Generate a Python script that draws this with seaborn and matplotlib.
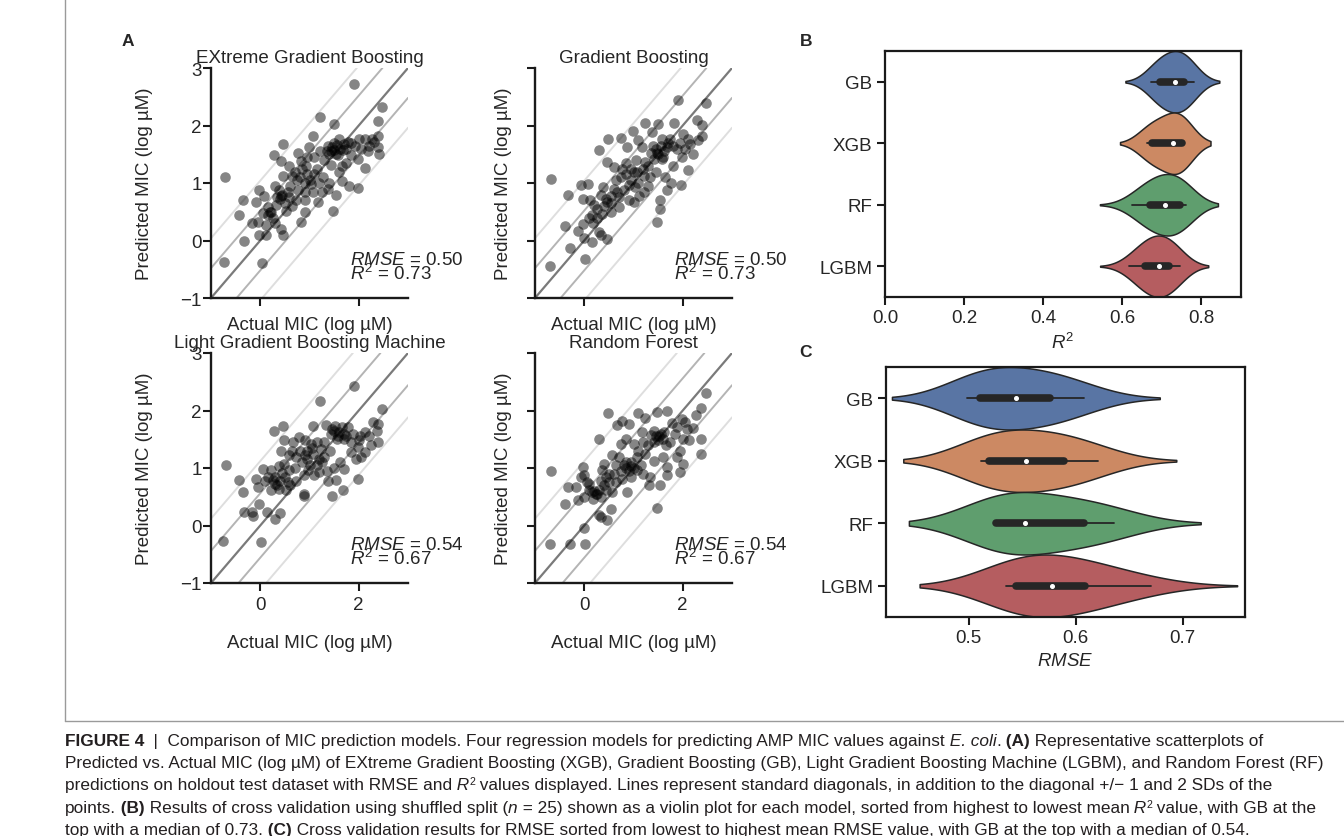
import numpy as np
import pandas as pd
import matplotlib
matplotlib.use("Agg")
import matplotlib.pyplot as plt
import seaborn as sns
from matplotlib.lines import Line2D

# (actual, predicted) pairs
xgb_points = [
    (1.90, 2.72), (2.48, 2.33), (2.39, 2.07), (1.21, 2.14), (1.49, 2.03), (1.08, 1.82), (0.47, 1.67), (0.27, 1.48),
    (-0.71, 1.10), (0.43, 1.38), (0.76, 1.52), (0.99, 1.63), (1.21, 1.56), (1.37, 1.64), (1.44, 1.56), (1.54, 1.51),
    (1.60, 1.76), (1.71, 1.68), (1.78, 1.71), (1.92, 1.64), (2.01, 1.77), (2.12, 1.77), (2.26, 1.77), (2.39, 1.81),
    (2.39, 1.62), (2.41, 1.51), (2.12, 1.26), (1.99, 1.42), (1.85, 1.49), (1.65, 1.29), (1.43, 1.32), (1.27, 1.10),
    (1.10, 1.16), (0.93, 1.30), (0.83, 1.39), (0.59, 1.30), (0.64, 1.13), (0.46, 1.12), (0.90, 1.00), (1.03, 0.98),
    (1.20, 1.00), (1.37, 0.90), (1.54, 0.79), (1.67, 1.04), (1.81, 0.95), (1.99, 0.91), (1.48, 0.52), (1.17, 0.67),
    (1.07, 0.84), (0.90, 0.70), (0.73, 0.70), (0.59, 0.76), (0.42, 0.78), (0.39, 0.87), (0.56, 0.84), (0.76, 0.87),
    (-0.02, 0.87), (0.08, 0.78), (-0.09, 0.67), (-0.36, 0.70), (-0.43, 0.45), (0.22, 0.49), (0.32, 0.61), (0.52, 0.52),
    (0.15, 0.58), (0.05, 0.47), (-0.05, 0.33), (-0.16, 0.30), (0.12, 0.27), (0.29, 0.30), (0.42, 0.20), (0.46, 0.09),
    (0.12, 0.09), (-0.02, 0.09), (-0.33, 0.00), (0.83, 0.33), (0.90, 0.49), (-0.73, -0.38), (0.03, -0.39),
    (1.45, 1.62), (1.50, 1.58), (1.55, 1.66), (1.62, 1.60), (1.40, 1.50), (1.58, 1.48), (1.68, 1.58), (1.50, 1.70),
    (1.35, 1.55), (1.75, 1.60), (1.85, 1.70), (2.05, 1.60), (2.20, 1.65), (2.30, 1.72), (2.18, 1.55), (0.70, 1.20),
    (0.80, 1.10), (0.95, 1.15), (0.85, 1.25), (1.00, 1.05), (0.75, 1.05), (1.15, 1.25), (1.30, 1.40), (1.10, 1.45),
    (0.95, 1.45), (0.40, 0.72), (0.45, 0.80), (0.35, 0.75), (0.50, 0.65), (0.20, 0.50), (0.15, 0.45), (0.25, 0.40),
    (0.60, 0.95), (0.65, 0.60), (0.30, 0.95), (1.25, 0.85), (1.40, 1.00), (1.60, 1.20), (1.75, 1.35), (0.90, 0.85),
]
gb_points = [
    (1.90, 2.44), (2.48, 2.39), (2.28, 2.10), (2.40, 2.01), (1.23, 2.04), (1.49, 2.03), (1.83, 2.04), (0.99, 1.91),
    (1.38, 1.88), (0.75, 1.78), (0.49, 1.77), (1.09, 1.74), (0.30, 1.58), (0.87, 1.62), (1.17, 1.62), (1.58, 1.77),
    (1.74, 1.77), (2.01, 1.85), (2.11, 1.77), (2.40, 1.82), (1.68, 1.62), (1.48, 1.53), (1.58, 1.42), (1.98, 1.45),
    (2.11, 1.23), (1.88, 1.59), (1.41, 1.42), (1.24, 1.36), (0.46, 1.36), (0.60, 1.27), (0.77, 1.25), (0.94, 1.25),
    (1.07, 1.19), (1.21, 1.13), (1.34, 1.10), (1.64, 1.10), (1.77, 1.00), (1.97, 0.97), (1.68, 0.87), (1.54, 0.70),
    (1.53, 0.54), (1.48, 0.32), (1.21, 0.84), (1.04, 0.93), (0.91, 0.96), (0.81, 0.87), (0.67, 0.84), (0.54, 0.78),
    (0.39, 0.93), (0.47, 0.67), (0.91, 0.70), (1.11, 0.78), (1.01, 0.67), (0.70, 0.58), (0.54, 0.49), (0.37, 0.46),
    (0.26, 0.39), (0.15, 0.45), (0.08, 0.98), (-0.07, 0.97), (-0.03, 0.72), (0.12, 0.71), (-0.34, 0.79), (-0.67, 1.07),
    (-0.40, 0.26), (-0.13, 0.17), (-0.02, 0.29), (0.00, 0.04), (0.15, -0.03), (0.30, 0.15), (0.34, 0.09), (0.47, 0.03),
    (-0.29, -0.13), (0.02, -0.32), (-0.69, -0.45),
    (1.45, 1.60), (1.55, 1.65), (1.50, 1.50), (1.62, 1.55), (1.40, 1.65), (1.70, 1.70), (1.80, 1.65), (1.95, 1.70),
    (2.05, 1.60), (2.15, 1.68), (1.35, 1.52), (1.60, 1.45), (0.85, 1.15), (0.95, 1.05), (1.00, 1.20), (0.75, 1.10),
    (1.10, 1.00), (1.20, 1.25), (0.65, 1.05), (0.85, 1.35), (1.05, 1.40), (1.30, 1.30), (0.40, 0.60), (0.45, 0.72),
    (0.55, 0.65), (0.25, 0.55), (0.20, 0.62), (0.60, 0.90), (0.70, 0.75), (0.35, 0.80), (0.10, 0.40), (0.18, 0.30),
    (1.30, 0.95), (1.45, 1.20), (1.80, 1.30), (2.20, 1.50), (2.30, 1.75),
]
lgbm_points = [
    (1.90, 2.42), (1.21, 2.16), (2.48, 2.03), (0.27, 1.65), (0.47, 1.73), (1.08, 1.73), (1.34, 1.75), (1.52, 1.73),
    (1.65, 1.71), (1.78, 1.71), (1.44, 1.59), (1.58, 1.56), (1.71, 1.51), (1.88, 1.59), (2.02, 1.56), (2.12, 1.62),
    (2.28, 1.80), (2.39, 1.77), (2.38, 1.64), (2.39, 1.45), (2.12, 1.27), (1.99, 1.36), (1.85, 1.27), (1.95, 1.16),
    (1.99, 0.81), (1.68, 0.61), (1.46, 0.52), (1.54, 0.79), (1.71, 0.98), (1.61, 1.10), (1.41, 1.30), (1.24, 1.33),
    (1.03, 1.42), (0.90, 1.48), (0.78, 1.54), (0.66, 1.45), (0.49, 1.48), (0.42, 1.30), (0.59, 1.22), (0.73, 1.19),
    (0.90, 1.22), (1.07, 1.25), (1.20, 1.16), (1.20, 0.93), (1.37, 0.78), (1.10, 0.87), (0.97, 0.96), (0.88, 0.87),
    (0.88, 0.52), (0.73, 0.78), (0.59, 0.96), (0.49, 1.07), (0.39, 1.04), (0.22, 0.96), (0.05, 0.98), (-0.09, 0.81),
    (0.10, 0.78), (0.29, 0.72), (0.39, 0.64), (0.52, 0.61), (-0.05, 0.67), (0.22, 0.61), (-0.43, 0.79), (-0.36, 0.58),
    (-0.70, 1.06), (-0.33, 0.24), (-0.16, 0.23), (-0.14, 0.16), (-0.02, 0.37), (0.14, 0.23), (0.29, 0.12), (0.41, 0.22),
    (-0.75, -0.27), (0.01, -0.29), (0.56, 0.76),
    (1.50, 1.65), (1.60, 1.62), (1.70, 1.60), (1.55, 1.50), (1.45, 1.68), (1.75, 1.55), (1.85, 1.45), (2.00, 1.48),
    (2.20, 1.55), (2.25, 1.40), (2.05, 1.20), (0.85, 1.10), (0.95, 1.15), (1.00, 1.05), (0.80, 1.30), (1.15, 1.05),
    (1.25, 1.10), (1.05, 1.35), (1.30, 1.45), (0.70, 1.00), (0.95, 1.30), (1.15, 1.45), (0.30, 0.85), (0.40, 0.78),
    (0.35, 0.70), (0.50, 0.85), (0.25, 0.80), (0.45, 0.92), (0.60, 0.70), (0.15, 0.85), (0.65, 1.30), (1.35, 0.95),
    (0.88, 0.55), (1.30, 1.20), (1.50, 1.00),
]
rf_points = [
    (2.47, 2.30), (2.38, 2.04), (2.27, 1.93), (0.49, 1.95), (1.09, 1.95), (1.23, 1.87), (1.48, 1.97), (1.68, 1.99),
    (0.77, 1.82), (0.66, 1.75), (0.91, 1.77), (0.30, 1.51), (1.17, 1.62), (1.41, 1.64), (1.51, 1.56), (1.61, 1.62),
    (1.78, 1.78), (1.88, 1.71), (1.98, 1.85), (2.08, 1.68), (2.13, 1.48), (2.01, 1.51), (2.38, 1.51), (2.38, 1.25),
    (1.88, 1.19), (2.01, 1.07), (1.95, 0.93), (1.68, 1.01), (1.68, 0.87), (1.54, 0.70), (1.48, 0.31), (1.31, 0.70),
    (1.34, 0.84), (1.41, 1.13), (1.24, 1.25), (1.01, 1.42), (0.84, 1.51), (0.74, 1.42), (0.57, 1.22), (0.70, 1.19),
    (0.84, 1.10), (0.94, 1.04), (1.07, 1.19), (1.07, 0.96), (0.94, 0.84), (0.77, 0.81), (0.64, 0.75), (0.50, 0.90),
    (0.40, 1.07), (0.37, 0.96), (0.34, 0.78), (0.30, 0.61), (0.44, 0.61), (0.57, 0.58), (0.87, 0.58), (0.17, 0.46),
    (0.23, 0.55), (0.10, 0.61), (-0.02, 1.01), (0.00, 0.87), (-0.07, 0.85), (0.10, 0.73), (-0.17, 0.67), (-0.34, 0.67),
    (-0.13, 0.44), (-0.01, 0.49), (-0.40, 0.37), (-0.67, 0.94), (0.54, 0.28), (0.30, 0.19), (0.47, 0.09), (0.35, 0.15),
    (-0.01, -0.05), (-0.29, -0.33), (0.02, -0.33), (-0.70, -0.33),
    (1.45, 1.55), (1.50, 1.48), (1.55, 1.60), (1.42, 1.45), (1.60, 1.50), (1.35, 1.58), (1.65, 1.40), (1.75, 1.45),
    (1.85, 1.60), (2.05, 1.80), (2.20, 1.70), (1.95, 1.30), (0.85, 1.00), (0.90, 0.95), (0.80, 1.05), (0.95, 1.10),
    (1.00, 1.00), (0.75, 0.95), (1.15, 1.05), (1.20, 0.90), (0.65, 1.05), (0.60, 0.90), (1.10, 1.30), (0.25, 0.55),
    (0.20, 0.60), (0.35, 0.50), (0.40, 0.70), (0.15, 0.58), (0.50, 0.75), (0.45, 0.85), (0.05, 0.75), (1.60, 1.20),
    (1.30, 1.40), (1.20, 1.45),
]

panel_titles = ["EXtreme Gradient Boosting", "Gradient Boosting",
                "Light Gradient Boosting Machine", "Random Forest"]
panel_rmse = ["0.50", "0.50", "0.54", "0.54"]
panel_r2 = ["0.73", "0.73", "0.67", "0.67"]
panel_sd = [0.52, 0.52, 0.56, 0.56]

# shuffled-split cross validation scores (n = 25 per model)
cv_models = ["GB", "XGB", "RF", "LGBM"]
r2_gb = [0.673, 0.680, 0.686, 0.690, 0.693, 0.695, 0.696, 0.705, 0.714, 0.721, 0.727, 0.731, 0.734,
         0.737, 0.740, 0.743, 0.746, 0.750, 0.757, 0.760, 0.764, 0.768, 0.772, 0.776, 0.780]
r2_xgb = [0.663, 0.666, 0.668, 0.670, 0.672, 0.674, 0.675, 0.690, 0.700, 0.710, 0.718, 0.724, 0.728,
          0.732, 0.736, 0.740, 0.744, 0.748, 0.751, 0.751, 0.752, 0.752, 0.753, 0.753, 0.754]
r2_rf = [0.625, 0.640, 0.650, 0.658, 0.663, 0.668, 0.671, 0.680, 0.688, 0.695, 0.700, 0.705, 0.709,
         0.714, 0.720, 0.726, 0.732, 0.738, 0.747, 0.749, 0.751, 0.753, 0.755, 0.758, 0.760]
r2_lgbm = [0.616, 0.630, 0.640, 0.647, 0.652, 0.656, 0.658, 0.665, 0.672, 0.678, 0.684, 0.688, 0.692,
           0.695, 0.698, 0.701, 0.705, 0.710, 0.717, 0.721, 0.726, 0.731, 0.736, 0.741, 0.745]
rmse_gb = [0.499, 0.503, 0.506, 0.508, 0.509, 0.510, 0.511, 0.515, 0.520, 0.525, 0.532, 0.538, 0.544,
           0.549, 0.554, 0.559, 0.564, 0.570, 0.576, 0.581, 0.586, 0.592, 0.597, 0.602, 0.608]
rmse_xgb = [0.512, 0.514, 0.515, 0.516, 0.517, 0.518, 0.519, 0.526, 0.533, 0.539, 0.544, 0.549, 0.554,
            0.560, 0.566, 0.572, 0.578, 0.584, 0.589, 0.594, 0.599, 0.604, 0.609, 0.615, 0.621]
rmse_rf = [0.525, 0.525, 0.525, 0.526, 0.526, 0.526, 0.526, 0.532, 0.538, 0.542, 0.546, 0.550, 0.553,
           0.560, 0.570, 0.580, 0.590, 0.600, 0.608, 0.612, 0.617, 0.622, 0.627, 0.631, 0.636]
rmse_lgbm = [0.535, 0.537, 0.539, 0.540, 0.542, 0.543, 0.544, 0.550, 0.556, 0.562, 0.567, 0.573, 0.578,
             0.583, 0.588, 0.593, 0.598, 0.603, 0.609, 0.615, 0.624, 0.633, 0.645, 0.657, 0.670]

sns.set_theme(style="ticks", palette="deep")
plt.rcParams["font.family"] = ["Liberation Sans", "DejaVu Sans"]
plt.rcParams["mathtext.fontset"] = "custom"
plt.rcParams["mathtext.rm"] = "Liberation Sans"
plt.rcParams["mathtext.it"] = "Liberation Sans:italic"
plt.rcParams["mathtext.bf"] = "Liberation Sans:bold"

W, H = 1344, 837
FS = 13.5
fig = plt.figure(figsize=(W / 100, H / 100), dpi=100)


def box(l, t, r, b):
    return [l / W, 1 - b / H, (r - l) / W, (b - t) / H]


# ---- panel A: four scatterplots ----
scatter_boxes = [box(211, 69, 408, 299), box(535, 69, 732, 299),
                 box(211, 354, 408, 584), box(535, 354, 732, 584)]
all_points = [xgb_points, gb_points, lgbm_points, rf_points]

for i, pts in enumerate(all_points):
    ax = fig.add_axes(scatter_boxes[i])
    arr = np.array(pts)
    sd = panel_sd[i]
    ax.axline((0, 0), slope=1, color="#7a7a7a", lw=1.6, zorder=1)
    for k, c in [(1, "#b4b4b4"), (2, "#dedede")]:
        ax.axline((0, k * sd), slope=1, color=c, lw=1.4, zorder=1)
        ax.axline((0, -k * sd), slope=1, color=c, lw=1.4, zorder=1)
    sns.scatterplot(x=arr[:, 0], y=arr[:, 1], color="black", alpha=0.48, s=58,
                    linewidth=0, ax=ax, zorder=3)
    ax.set_xlim(-1, 3)
    ax.set_ylim(-1, 3)
    ax.set_xticks([0, 2])
    ax.set_yticks([-1, 0, 1, 2, 3])
    sns.despine(ax=ax)
    for s in ["left", "bottom"]:
        ax.spines[s].set_linewidth(1.7)
        ax.spines[s].set_color("#1a1a1a")
    ax.tick_params(axis="both", length=5.5, width=1.5, labelsize=FS, color="#1a1a1a")
    ax.tick_params(axis="y", pad=1)
    ax.tick_params(axis="x", pad=4)
    top_row = i < 2
    left_col = i % 2 == 0
    if top_row:
        ax.tick_params(labelbottom=False)
    if not left_col:
        ax.tick_params(labelleft=False)
    ax.set_title(panel_titles[i], fontsize=FS, pad=4)
    ax.set_xlabel("Actual MIC (log µM)", fontsize=FS)
    ax.set_ylabel("Predicted MIC (log µM)", fontsize=FS)
    ax.xaxis.set_label_coords(0.5, -0.135 if top_row else -0.278)
    ax.xaxis.label.set_va("baseline")
    ax.yaxis.set_label_coords(-0.34 if left_col else -0.162, 0.5)
    ax.yaxis.label.set_va("center")
    ax.text(1.82, -0.41, "$RMSE$ = " + panel_rmse[i], fontsize=FS, va="baseline")
    ax.text(1.82, -0.67, "$R^2$ = " + panel_r2[i], fontsize=FS, va="baseline")

# ---- panels B and C: violin plots ----
df_r2 = pd.DataFrame({"model": np.repeat(cv_models, 25),
                      "value": np.concatenate([r2_gb, r2_xgb, r2_rf, r2_lgbm])})
df_rmse = pd.DataFrame({"model": np.repeat(cv_models, 25),
                        "value": np.concatenate([rmse_gb, rmse_xgb, rmse_rf, rmse_lgbm])})

axB = fig.add_axes(box(885, 52, 1241, 298))
axC = fig.add_axes(box(886, 368, 1245, 618))
for ax, df in [(axB, df_r2), (axC, df_rmse)]:
    sns.violinplot(data=df, x="value", y="model", hue="model", palette="deep", legend=False,
                   orient="h", inner="box", width=1.0, bw_adjust=1.9, cut=2,
                   linewidth=1.1, linecolor="#262626",
                   inner_kws=dict(box_width=5.5, whis_width=1.3, marker="o", markersize=2.5), ax=ax)
    ax.set_ylabel("")
    ax.tick_params(axis="both", length=5.5, width=1.5, labelsize=FS, color="#1a1a1a")
    for s in ax.spines.values():
        s.set_linewidth(1.6)
        s.set_color("#1a1a1a")

axB.set_xlim(0, 0.9)
axB.set_xticks([0.0, 0.2, 0.4, 0.6, 0.8])
axB.set_xticklabels(["0.0", "0.2", "0.4", "0.6", "0.8"])
axB.set_xlabel("$R^2$", fontsize=FS)
axC.set_xlim(0.423, 0.758)
axC.set_xticks([0.5, 0.6, 0.7])
axC.set_xticklabels(["0.5", "0.6", "0.7"])
axC.set_xlabel("$RMSE$", fontsize=FS)

# panel letters
for letter, (px, py) in zip("ABC", [(128, 42), (806, 41), (806, 353)]):
    fig.text(px / W, 1 - py / H, letter, fontsize=12.5, weight="bold", ha="center", va="center")

# frame around the figure panel
frame_col = "#9a9a9a"
fig.add_artist(Line2D([65 / W, 65 / W], [1, 1 - 722 / H], transform=fig.transFigure,
                      color=frame_col, lw=1))
fig.add_artist(Line2D([65 / W, 1], [1 - 722 / H, 1 - 722 / H], transform=fig.transFigure,
                      color=frame_col, lw=1))

# ---- caption ----
cap = fig.add_axes([0, 0, 1, 1])
cap.axis("off")
cap.set_xlim(0, W)
cap.set_ylim(H, 0)
CAP_FS = 12.4
cap_color = "#231f20"
B_ = dict(weight="bold")
I_ = dict(style="italic")
SUP = "sup"

caption_lines = [
    [("FIGURE 4", B_), ("  |", {}), ("  Comparison of MIC prediction models. Four regression models for predicting AMP MIC values against", {}),
     (" E. coli", I_), (".", {}), (" (A)", B_), (" Representative scatterplots of", {})],
    [("Predicted vs. Actual MIC (log µM) of EXtreme Gradient Boosting (XGB), Gradient Boosting (GB), Light Gradient Boosting Machine (LGBM), and Random Forest (RF)", {})],
    [("predictions on holdout test dataset with RMSE and", {}), (" R", I_), ("2", SUP),
     (" values displayed. Lines represent standard diagonals, in addition to the diagonal +/− 1 and 2 SDs of the", {})],
    [("points.", {}), (" (B)", B_), (" Results of cross validation using shuffled split (", {}), ("n", I_),
     (" = 25) shown as a violin plot for each model, sorted from highest to lowest mean", {}), (" R", I_), ("2", SUP),
     (" value, with GB at the", {})],
    [("top with a median of 0.73.", {}), (" (C)", B_),
     (" Cross validation results for RMSE sorted from lowest to highest mean RMSE value, with GB at the top with a median of 0.54.", {})],
]
cap_x = 65
cap_baselines = [746, 768, 790, 813, 835]

for segs, yb in zip(caption_lines, cap_baselines):
    first = None
    prev = None
    for txt, kw in segs:
        if prev is None:
            first = cap.text(cap_x, yb, txt, fontsize=CAP_FS, color=cap_color, va="baseline", ha="left", **kw)
            prev = first
        elif kw == SUP:
            prev = cap.annotate(txt, xy=(1, 0.42), xycoords=prev, va="bottom", ha="left",
                                fontsize=CAP_FS * 0.62, color=cap_color)
        else:
            prev = cap.annotate(txt, xy=(1, 0), xycoords=(prev, first), va="bottom", ha="left",
                                fontsize=CAP_FS, color=cap_color, **kw)

fig.savefig("out.png", dpi=100, facecolor="white")
